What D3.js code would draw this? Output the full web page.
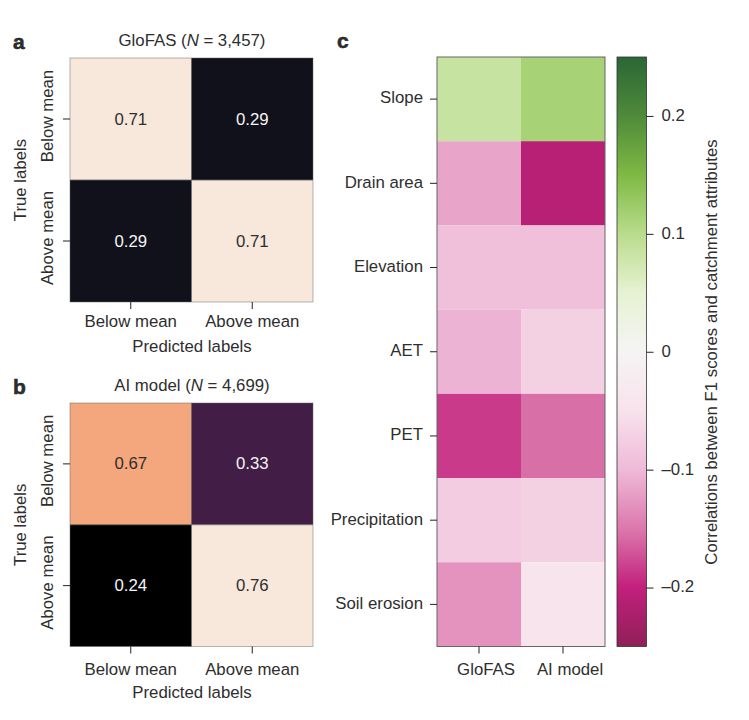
<!DOCTYPE html>
<html>
<head>
<meta charset="utf-8">
<script src="https://cdn.jsdelivr.net/npm/d3@7"></script>
<style>
  html, body { margin: 0; padding: 0; background: #fff; }
  svg { display: block; }
  text { font-family: "Liberation Sans", Arial, sans-serif; fill: #2e2e2e; }
  .domain { display: none; }
  .tick line { stroke: #222; stroke-width: 1; }
</style>
</head>
<body>
<svg id="chart" width="749" height="720"></svg>
<script>
const matrixLabels = ["Below mean", "Above mean"];
const glofasMatrix = [[0.71, 0.29], [0.29, 0.71]];
const aiMatrix = [[0.67, 0.33], [0.24, 0.76]];

// colours
const glofasDomain = [0.29, 0.71];
const glofasColours = ["#10111a", "#f8e8dc"];
const aiDomain = [0.24, 0.33, 0.67, 0.76];
const aiColours = ["#000000", "#421e46", "#f4a67c", "#f8e8dc"];

const attributes = ["Slope", "Drain area", "Elevation", "AET", "PET", "Precipitation", "Soil erosion"];
const models = ["GloFAS", "AI model"];
const glofasCorr = [0.085, -0.117, -0.093, -0.105, -0.185, -0.078, -0.13];
const aiCorr = [0.115, -0.21, -0.093, -0.073, -0.155, -0.072, -0.045];

// PiYG, a bit muted at the ends like the printed figure
const piygStops = [-0.25, -0.2, -0.15, -0.1, -0.05, 0, 0.05, 0.1, 0.15, 0.2, 0.25];
const piygColours = ["#8f2058", "#c2207c", "#dc78ac", "#efbad8", "#f8e2ec", "#f5f4f4",
                     "#e6f2d2", "#b9dc8c", "#7fb944", "#4f8a3a", "#2b6637"];
const barTicks = [0.2, 0.1, 0, -0.1, -0.2];
const barTickLabels = ["0.2", "0.1", "0", "\u20130.1", "\u20130.2"];

const svg = d3.select("#chart");
const FONT = 16.8;
const BORDER = "#666";

function label(x, y, txt, opts) {
  opts = opts || {};
  const t = svg.append("text")
    .attr("font-size", opts.size || FONT)
    .attr("text-anchor", opts.anchor || "middle")
    .attr("transform", "translate(" + x + "," + y + ")" + (opts.rotate ? " rotate(-90)" : ""));
  if (opts.bold) t.attr("font-weight", "bold").style("stroke", "#1a1a1a").style("stroke-width", 0.5);
  return t.text(txt);
}

function drawMatrix(top, bottom, values, domain, colours, name, count, tickBase, xLabelBase, letter, letterBase, titleBase) {
  const x = d3.scaleBand().domain([0, 1]).range([70, 313]);
  const y = d3.scaleBand().domain([0, 1]).range([top, bottom]);
  const colour = d3.scaleLinear().domain(domain).range(colours);
  const g = svg.append("g");

  values.forEach((row, r) => {
    row.forEach((v, c) => {
      g.append("rect")
        .attr("x", x(c)).attr("y", y(r))
        .attr("width", x.bandwidth()).attr("height", y.bandwidth())
        .attr("fill", colour(v));
      g.append("text")
        .attr("x", x(c) + x.bandwidth() / 2)
        .attr("y", y(r) + y.bandwidth() / 2 + 5.5)
        .attr("text-anchor", "middle")
        .attr("font-size", FONT)
        .style("fill", v < 0.5 ? "#f4f4f4" : "#2e2e2e")
        .text(v.toFixed(2));
    });
  });

  g.append("rect")
    .attr("x", 70).attr("y", top).attr("width", 243).attr("height", bottom - top)
    .attr("fill", "none").attr("stroke", BORDER).attr("stroke-width", 0.8).attr("stroke-opacity", 0.6);
  g.append("line")
    .attr("x1", 70).attr("x2", 313)
    .attr("y1", y(1)).attr("y2", y(1))
    .attr("stroke", BORDER).attr("stroke-width", 0.8);
  g.append("line")
    .attr("x1", x(1)).attr("x2", x(1))
    .attr("y1", top).attr("y2", bottom)
    .attr("stroke", BORDER).attr("stroke-width", 0.8);

  const xAxis = svg.append("g")
    .attr("transform", "translate(0," + bottom + ")")
    .call(d3.axisBottom(x).tickSize(7).tickFormat(() => ""));
  xAxis.selectAll("text").remove();
  const yAxis = svg.append("g")
    .attr("transform", "translate(70,0)")
    .call(d3.axisLeft(y).tickSize(7).tickFormat(() => ""));
  yAxis.selectAll("text").remove();

  matrixLabels.forEach((m, i) => {
    label(x(i) + x.bandwidth() / 2, tickBase, m);
    // rotated labels sit slightly above their ticks in the print
    label(53, y(i) + y.bandwidth() / 2 - 3, m, { rotate: true });
  });
  label(192, xLabelBase, "Predicted labels");
  label(26, (top + bottom) / 2, "True labels", { rotate: true });

  const title = label(192, titleBase, name + " (");
  title.append("tspan").attr("font-style", "italic").text("N");
  title.append("tspan").text(" = " + count + ")");

  label(13, letterBase, letter, { anchor: "start", size: 21, bold: true });
}

drawMatrix(58, 302, glofasMatrix, glofasDomain, glofasColours, "GloFAS", "3,457", 327, 352, "a", 49, 46);
drawMatrix(403, 646.5, aiMatrix, aiDomain, aiColours, "AI model", "4,699", 675, 698, "b", 394, 391);

// panel c
const corrColour = d3.scaleLinear().domain(piygStops).range(piygColours);
const cx = d3.scaleBand().domain(models).range([437, 605]);
const cy = d3.scaleBand().domain(attributes).range([57, 646.5]);
const corrBySeries = [glofasCorr, aiCorr];

models.forEach((m, c) => {
  attributes.forEach((a, r) => {
    svg.append("rect")
      .attr("x", cx(m)).attr("y", cy(a))
      .attr("width", cx.bandwidth()).attr("height", cy.bandwidth())
      .attr("fill", corrColour(corrBySeries[c][r]));
  });
});
svg.append("rect")
  .attr("x", 437).attr("y", 57).attr("width", 168).attr("height", 589.5)
  .attr("fill", "none").attr("stroke", BORDER).attr("stroke-width", 1);

const cxAxis = svg.append("g").attr("transform", "translate(0,646.5)")
  .call(d3.axisBottom(cx).tickSize(7).tickPadding(10));
// the printed labels sit a little right of their ticks
cxAxis.selectAll("text").attr("font-size", FONT).attr("font-family", null).attr("dx", 7);
const cyAxis = svg.append("g").attr("transform", "translate(437,0)")
  .call(d3.axisLeft(cy).tickSize(7).tickPadding(7));
cyAxis.selectAll("text").attr("font-size", FONT).attr("font-family", null).attr("y", -1);

label(337, 48, "c", { anchor: "start", size: 21, bold: true });

// colour bar
const barY = d3.scaleLinear().domain([-0.25, 0.25]).range([646.5, 57]);
const grad = svg.append("defs").append("linearGradient")
  .attr("id", "piyg").attr("x1", 0).attr("x2", 0).attr("y1", 1).attr("y2", 0);
piygStops.forEach((s, i) => {
  grad.append("stop")
    .attr("offset", (s + 0.25) / 0.5)
    .attr("stop-color", piygColours[i]);
});
svg.append("rect")
  .attr("x", 617).attr("y", 57).attr("width", 29.5).attr("height", 589.5)
  .attr("fill", "url(#piyg)").attr("stroke", "#333").attr("stroke-width", 0.8);

const barAxis = svg.append("g").attr("transform", "translate(646.5,0)")
  .call(d3.axisRight(barY)
    .tickValues(barTicks)
    .tickSize(7)
    .tickPadding(8)
    .tickFormat((d, i) => barTickLabels[i]));
barAxis.selectAll("text").attr("font-size", FONT).attr("font-family", null).attr("y", -1);

label(717, 352, "Correlations between F1 scores and catchment attributes", { rotate: true });
</script>
</body>
</html>
